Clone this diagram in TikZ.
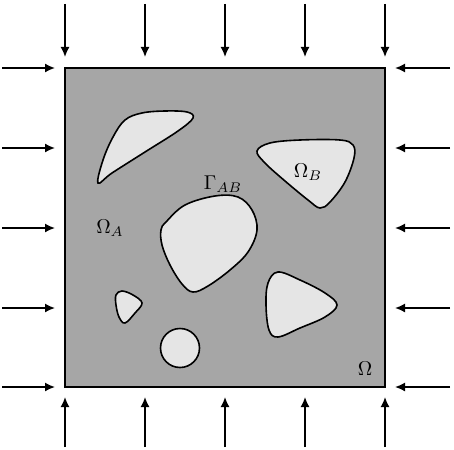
\documentclass[tikz,border=0pt]{standalone}
\usepackage{tikz}
\usetikzlibrary{
  arrows.meta,
  positioning,
}
\tikzset{
  >={Latex[length=5pt,width=4.5pt]},
  load/.style={->, line width=0.8pt},
  grain/.style={draw, line width=0.8pt, fill=black!10},
}

\begin{document}
\begin{tikzpicture}[x=0.5pt, y=-0.5pt]
      \useasboundingbox (0,0) rectangle (454,449);
      % matrix
      \draw[line width=1pt, fill=black!35] (65,68) rectangle (385,387);
      % applied loads
      \foreach \p in {65,145,225,305,385} {
        \draw[load] (\p,4) -- (\p,57);
        \draw[load] (\p,447) -- (\p,397);
      }
      \foreach \p in {68,148,228,308,387} {
        \draw[load] (2,\p) -- (55,\p);
        \draw[load] (450,\p) -- (395,\p);
      }
      % inclusions
      \draw[grain] plot[smooth cycle, tension=0.6] coordinates {
        (98,183) (103,160) (113,137) (125,120) (142,113) (165,111)
        (187,112) (193,118) (178,131) (145,152) (112,173)
      };
      \draw[grain] plot[smooth cycle, tension=0.6] coordinates {
        (257,151) (270,143) (300,140) (340,140) (353,145) (354,158)
        (345,182) (330,202) (320,208) (308,200) (285,181) (265,163)
      };
      \draw[grain] plot[smooth cycle, tension=0.6] coordinates {
        (166,222) (185,205) (215,196) (238,197) (252,210) (257,230)
        (248,252) (230,270) (208,286) (193,292) (182,284) (170,265)
        (162,245) (161,230)
      };
      \draw[grain] plot[smooth cycle, tension=0.6] coordinates {
        (116,295) (122,291) (133,295) (142,303) (135,313) (125,323)
        (119,317) (116,305)
      };
      \draw[grain] (180,348) circle (19.5);
      \draw[grain] plot[smooth cycle, tension=0.6] coordinates {
        (268,283) (278,272) (300,280) (325,293) (337,305) (325,317)
        (300,328) (278,337) (269,330) (266,305)
      };
      % labels
      \node (omegaA) at (110,228) {$\Omega_A$};
      \node (omegaB) at (308,172) {$\Omega_B$};
      \node (gammaAB) at (223,184) {$\Gamma_{AB}$};
      \node (omega) at (365,369) {$\Omega$};
    \end{tikzpicture}
\end{document}
